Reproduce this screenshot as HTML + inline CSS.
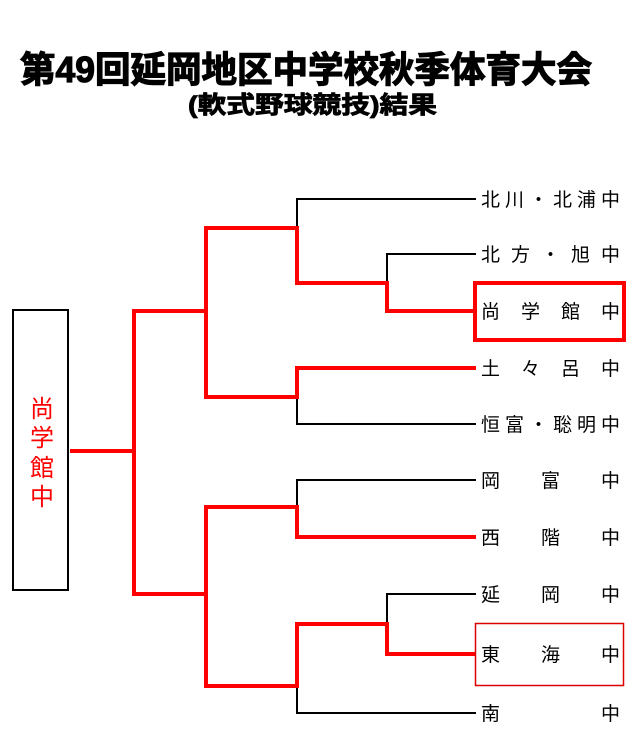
<!DOCTYPE html>
<html><head><meta charset="utf-8"><style>
html,body{margin:0;padding:0;background:#fff;}
svg{display:block;}
text{font-family:"Liberation Sans","Noto Sans CJK JP",sans-serif;}
</style></head><body>
<svg width="638" height="743" viewBox="0 0 638 743" xmlns="http://www.w3.org/2000/svg">
<text x="20" y="82" font-size="36" font-weight="bold" textLength="572" lengthAdjust="spacingAndGlyphs" stroke="#000" stroke-width="1.2">第49回延岡地区中学校秋季体育大会</text>
<text x="188" y="113" font-size="24" font-weight="bold" textLength="249" lengthAdjust="spacingAndGlyphs" stroke="#000" stroke-width="0.8">(軟式野球競技)結果</text>

<g stroke="#000" stroke-width="2" fill="none">
<polyline points="476,199 297,199 297,228"/>
<polyline points="476,254 387,254 387,283"/>
<line x1="206" y1="311" x2="206" y2="397"/>
<polyline points="297,397 297,424 476,424"/>
<line x1="134" y1="451" x2="134" y2="594"/>
<polyline points="476,480 297,480 297,507"/>
<line x1="206" y1="507" x2="206" y2="594"/>
<polyline points="476,594 387,594 387,624"/>
<polyline points="297,686 297,713 476,713"/>
<rect x="13" y="310" width="55" height="280"/>
</g>

<g stroke="#f00" stroke-width="4" fill="none" stroke-linejoin="miter">
<polyline points="206,311 206,228 297,228 297,283 387,283 387,311 476,311"/>
<polyline points="206,311 206,397 297,397 297,368 476,368"/>
<polyline points="70,451 134,451 134,311 206,311"/>
<polyline points="134,451 134,594 206,594"/>
<polyline points="206,594 206,507 297,507 297,537 476,537"/>
<polyline points="206,594 206,686 297,686 297,624 387,624 387,654 476,654"/>
<rect x="475" y="283" width="149" height="57"/>
</g>
<rect x="475.5" y="623.5" width="148" height="62" fill="none" stroke="#d00" stroke-width="1.5"/>

<g fill="#f00" font-size="24" text-anchor="middle">
<text x="42" y="417">尚</text>
<text x="42" y="446">学</text>
<text x="42" y="476">館</text>
<text x="42" y="505">中</text>
</g>

<g font-size="19" fill="#000">
<text x="481" y="206" textLength="139" lengthAdjust="spacing">北川・北浦中</text>
<text x="481" y="261" textLength="139" lengthAdjust="spacing">北方・旭中</text>
<text x="481" y="318" textLength="139" lengthAdjust="spacing">尚学館中</text>
<text x="481" y="375" textLength="139" lengthAdjust="spacing">土々呂中</text>
<text x="481" y="431" textLength="139" lengthAdjust="spacing">恒富・聡明中</text>
<text x="481" y="487" textLength="139" lengthAdjust="spacing">岡富中</text>
<text x="481" y="544" textLength="139" lengthAdjust="spacing">西階中</text>
<text x="481" y="601" textLength="139" lengthAdjust="spacing">延岡中</text>
<text x="481" y="661" textLength="139" lengthAdjust="spacing">東海中</text>
<text x="481" y="720" textLength="139" lengthAdjust="spacing">南中</text>
</g>
</svg>
</body></html>
